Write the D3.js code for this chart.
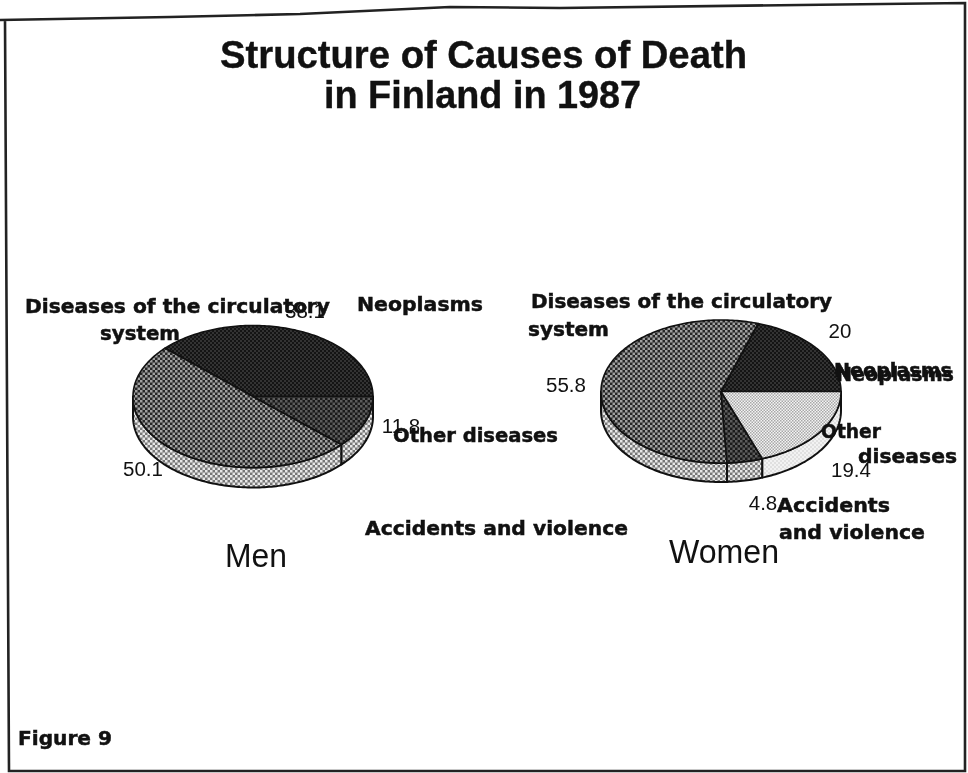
<!DOCTYPE html>
<html><head><meta charset="utf-8">
<script src="https://cdnjs.cloudflare.com/ajax/libs/d3/7.8.5/d3.min.js"></script>
<style>html,body{margin:0;padding:0;background:#fff}svg{display:block;filter:blur(.6px)}</style>
</head><body><svg id="c" width="968" height="773"></svg>
<script>
const titleLines = ["Structure of Causes of Death", "in Finland in 1987"];
const categories = ["Neoplasms", "Diseases of the circulatory system", "Accidents and violence", "Other diseases"];
const menValues = [38.1, 50.1, 11.8, 0];
const womenValues = [20, 55.8, 4.8, 19.4];
const groupNames = ["Men", "Women"];
const figureLabel = "Figure 9";

const svg = d3.select("#c");
const defs = svg.append("defs");
function checker(id, bg, fg, size) {
  const p = defs.append("pattern").attr("id", id).attr("patternUnits", "userSpaceOnUse")
    .attr("width", size).attr("height", size);
  p.append("rect").attr("width", size).attr("height", size).attr("fill", bg);
  p.append("rect").attr("width", size/2).attr("height", size/2).attr("fill", fg);
  p.append("rect").attr("x", size/2).attr("y", size/2).attr("width", size/2).attr("height", size/2).attr("fill", fg);
}
checker("pNeo", "#141414", "#333", 4);
checker("pCirc", "#262626", "#a0a0a0", 5);
checker("pAcc", "#1a1a1a", "#5c5c5c", 5);
checker("pOth", "#f4f4f4", "#a8a8a8", 3);
checker("rCirc", "#777", "#e8e8e8", 5);
checker("rOth", "#f2f2f2", "#e0e0e0", 4);
const topFill = d3.scaleOrdinal().domain(categories).range(["url(#pNeo)", "url(#pCirc)", "url(#pAcc)", "url(#pOth)"]);
const rimFill = d3.scaleOrdinal().domain(categories).range(["url(#rCirc)", "url(#rCirc)", "url(#rCirc)", "url(#rOth)"]);

// page frame (scan edge)
svg.append("path").attr("fill", "none").attr("stroke", "#222").attr("stroke-width", 2.6)
  .attr("d", d3.line()([[0,20],[170,17],[300,14],[450,7],[560,8],[800,5],[965,3],[965,771],[9,771],[5,20]]));

const pie = d3.pie().sort(null).startAngle(Math.PI/2).endAngle(-3*Math.PI/2);
const line = d3.line();
const FRONT_A = -3*Math.PI/2, FRONT_B = -Math.PI/2;

function drawPie(values, cx, cy, rx, ry, depth) {
  const px = d3.scaleLinear().domain([-1,1]).range([cx-rx, cx+rx]);
  const py = d3.scaleLinear().domain([-1,1]).range([cy-ry, cy+ry]);
  const pt = (a, off=0) => [px(Math.sin(a)), py(-Math.cos(a)) + off];
  const arcs = pie(values).map((d,i) => ({...d, cat: categories[i]})).filter(d => d.value > 0);
  const steps = (a,b) => { const n = Math.max(2, Math.ceil(Math.abs(b-a)/0.02)); return d3.range(n+1).map(i => a+(b-a)*i/n); };
  const g = svg.append("g");
  g.selectAll("path.rim").data(arcs.filter(d => Math.min(d.startAngle,FRONT_B) > Math.max(d.endAngle,FRONT_A)))
    .join("path").attr("class","rim")
    .attr("fill", d => rimFill(d.cat)).attr("stroke","#111").attr("stroke-width",2).attr("stroke-linejoin","round")
    .attr("d", d => {
      const s = steps(Math.max(d.endAngle,FRONT_A), Math.min(d.startAngle,FRONT_B));
      return line([...s.map(a => pt(a)), ...s.slice().reverse().map(a => pt(a, depth))]) + "Z";
    });
  g.selectAll("path.top").data(arcs).join("path").attr("class","top")
    .attr("fill", d => topFill(d.cat)).attr("stroke","#111").attr("stroke-width",1.6).attr("stroke-linejoin","round")
    .attr("d", d => line([[px(0),py(0)], ...steps(d.startAngle,d.endAngle).map(a => pt(a))]) + "Z");
}
drawPie(menValues, 253, 396.5, 120, 71, 20);
drawPie(womenValues, 721, 391.5, 120, 71.5, 19);

const BOLD = "'DejaVu Sans'", PLAIN = "'Liberation Sans'";
function txt(s, x, y, size, fam, weight, width, anchor="start", stroke=0) {
  const t = svg.append("text").attr("x",x).attr("y",y).attr("font-family",fam).attr("font-size",size)
    .attr("font-weight",weight).attr("fill","#111").attr("text-anchor",anchor).text(s);
  if (stroke) t.attr("stroke","#111").attr("stroke-width",stroke);
  if (width) t.attr("textLength",width).attr("lengthAdjust","spacingAndGlyphs");
  return t;
}
const LS = 20, VS = 20.5;
function lab(s,x,y,w){ return txt(s,x,y+1.5,LS,BOLD,700,w,"start",0.5); }
// title
txt(titleLines[0], 220, 68, 39, PLAIN, 700, 527, "start", 0.4);
txt(titleLines[1], 324, 108, 39, PLAIN, 700, 317, "start", 0.4);
// men labels
const [circ1, circ2] = ["Diseases of the circulatory", "system"];
lab(circ1, 25, 311, 305);
lab(circ2, 100, 338, 80);
lab(categories[0], 357, 309, 126);
lab(categories[3], 393, 440, 165);
lab(categories[2], 365, 533, 263);
txt(menValues[0], 305, 318, VS, PLAIN, 400, null, "middle");
txt(menValues[1], 143, 476, VS, PLAIN, 400, null, "middle");
txt(menValues[2], 401, 433, VS, PLAIN, 400, null, "middle");
txt(groupNames[0], 256, 567, 34, PLAIN, 400, 62, "middle");
// women labels
lab(circ1, 531, 306, 301);
lab(circ2, 528, 334, 81);
lab(categories[0], 834, 375, 118);
lab(categories[0], 836, 379, 118);
lab("Other", 821, 436, 60);
lab("diseases", 858, 461, 99);
lab("Accidents", 777, 510, 113);
lab("and violence", 779, 537, 146);
txt(womenValues[0], 840, 338, VS, PLAIN, 400, null, "middle");
txt(womenValues[1], 566, 392, VS, PLAIN, 400, null, "middle");
txt(womenValues[3], 851, 477, VS, PLAIN, 400, null, "middle");
txt(womenValues[2], 763, 510, VS, PLAIN, 400, null, "middle");
txt(groupNames[1], 724, 563, 34, PLAIN, 400, 110, "middle");
lab(figureLabel, 18, 743, 94);
</script></body></html>
